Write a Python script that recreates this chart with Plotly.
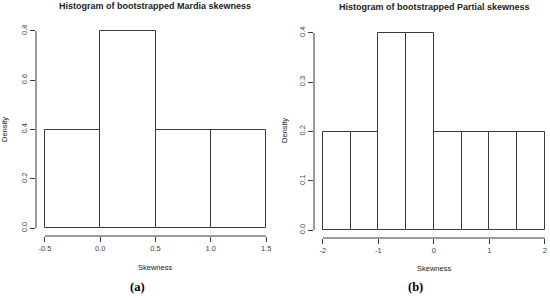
import plotly.graph_objects as go

# bootstrapped histograms (density scale)
mardia_edges = [-0.5, 0.0, 0.5, 1.0, 1.5]
mardia_density = [0.4, 0.8, 0.4, 0.4]
mardia_xticks = [-0.5, 0.0, 0.5, 1.0, 1.5]
mardia_yticks = [0.0, 0.2, 0.4, 0.6, 0.8]

partial_edges = [-2.0, -1.5, -1.0, -0.5, 0.0, 0.5, 1.0, 1.5, 2.0]
partial_density = [0.2, 0.2, 0.4, 0.4, 0.2, 0.2, 0.2, 0.2]
partial_xticks = [-2, -1, 0, 1, 2]
partial_yticks = [0.0, 0.1, 0.2, 0.3, 0.4]

W, H = 550, 298
LINE = "#3a3a3a"
SANS = "Liberation Sans, Arial, sans-serif"


def bars(edges, dens, xa, ya):
    mids = [(a + b) / 2 for a, b in zip(edges[:-1], edges[1:])]
    widths = [b - a for a, b in zip(edges[:-1], edges[1:])]
    return go.Bar(x=mids, y=dens, width=widths, xaxis=xa, yaxis=ya,
                  marker=dict(color="white", line=dict(color=LINE, width=1)),
                  showlegend=False, hoverinfo="skip")


fig = go.Figure()
fig.add_trace(bars(mardia_edges, mardia_density, "x", "y"))
fig.add_trace(bars(partial_edges, partial_density, "x2", "y2"))


def xax(dom, rng, ticks, fmt, anchor):
    return dict(domain=dom, range=rng, anchor=anchor, tickvals=ticks,
                ticktext=[fmt(t) for t in ticks], ticks="outside", ticklen=5,
                tickcolor=LINE, showline=False, showgrid=False, zeroline=False,
                automargin=False,
                tickfont=dict(family=SANS, size=7.5, color="#444"))


def yax(dom, rng, ticks, anchor):
    return dict(domain=dom, range=rng, anchor=anchor, tickvals=ticks,
                ticktext=[f"{t:.1f}" for t in ticks], ticks="outside", ticklen=5,
                tickangle=-90, tickcolor=LINE, showline=False, showgrid=False,
                zeroline=False, automargin=False,
                tickfont=dict(family=SANS, size=7.5, color="#444"))


# pixel geometry converted to paper fractions
ldom = [36 / W, 275 / W]
rdom = [314 / W, 1.0]
ldomy = [(H - 236) / H, (H - 23) / H]
rdomy = [(H - 238) / H, (H - 25) / H]

fig.update_layout(
    width=W, height=H, margin=dict(l=0, r=0, t=0, b=0),
    paper_bgcolor="white", plot_bgcolor="white", bargap=0,
    xaxis=xax(ldom, [-0.58, 1.58], mardia_xticks, lambda t: f"{t:.1f}", "y"),
    yaxis=yax(ldomy, [-0.032, 0.832], mardia_yticks, "x"),
    xaxis2=xax(rdom, [-2.16, -2.16 + (W - 314) / 55.5], partial_xticks, lambda t: f"{t:d}", "y2"),
    yaxis2=yax(rdomy, [-0.016, 0.416], partial_yticks, "x2"),
)

# R style axis lines, spanning only first..last tick
for xref, yref, xt, yt in [("x", "y", mardia_xticks, mardia_yticks),
                           ("x2", "y2", partial_xticks, partial_yticks)]:
    fig.add_shape(type="line", xref=xref, yref=yref + " domain", x0=xt[0], x1=xt[-1],
                  y0=0, y1=0, line=dict(color=LINE, width=1))
    fig.add_shape(type="line", xref=xref + " domain", yref=yref, x0=0, x1=0,
                  y0=yt[0], y1=yt[-1], line=dict(color=LINE, width=1))

ann = [
    dict(text="<b>Histogram of bootstrapped Mardia skewness</b>", x=155 / W, y=1 - 6 / H, size=9),
    dict(text="<b>Histogram of bootstrapped Partial skewness</b>", x=434 / W, y=1 - 7 / H, size=9),
    dict(text="Skewness", x=155 / W, y=1 - 267 / H, size=7.5),
    dict(text="Skewness", x=434 / W, y=1 - 268 / H, size=7.5),
]
for a in ann:
    fig.add_annotation(text=a["text"], x=a["x"], y=a["y"], xref="paper", yref="paper",
                       showarrow=False, xanchor="center", yanchor="middle",
                       font=dict(family=SANS, size=a["size"], color="#222"))

for x, y in [(5 / W, 1 - 130 / H), (284 / W, 1 - 131 / H)]:
    fig.add_annotation(text="Density", x=x, y=y, xref="paper", yref="paper", showarrow=False,
                       textangle=-90, xanchor="center", yanchor="middle",
                       font=dict(family=SANS, size=7.5, color="#222"))

for lab, x in [("(a)", 137), ("(b)", 415)]:
    fig.add_annotation(text=f"<b>{lab}</b>", x=x / W, y=1 - 287 / H, xref="paper", yref="paper",
                       showarrow=False, xanchor="center", yanchor="middle",
                       font=dict(family="Liberation Serif, serif", size=12.5, color="black"))

# page body has a default 8px margin; drop it so the figure fills the window
fig.write_html("out.html", config={"displayModeBar": False},
               post_script="document.body.style.margin='0';")
